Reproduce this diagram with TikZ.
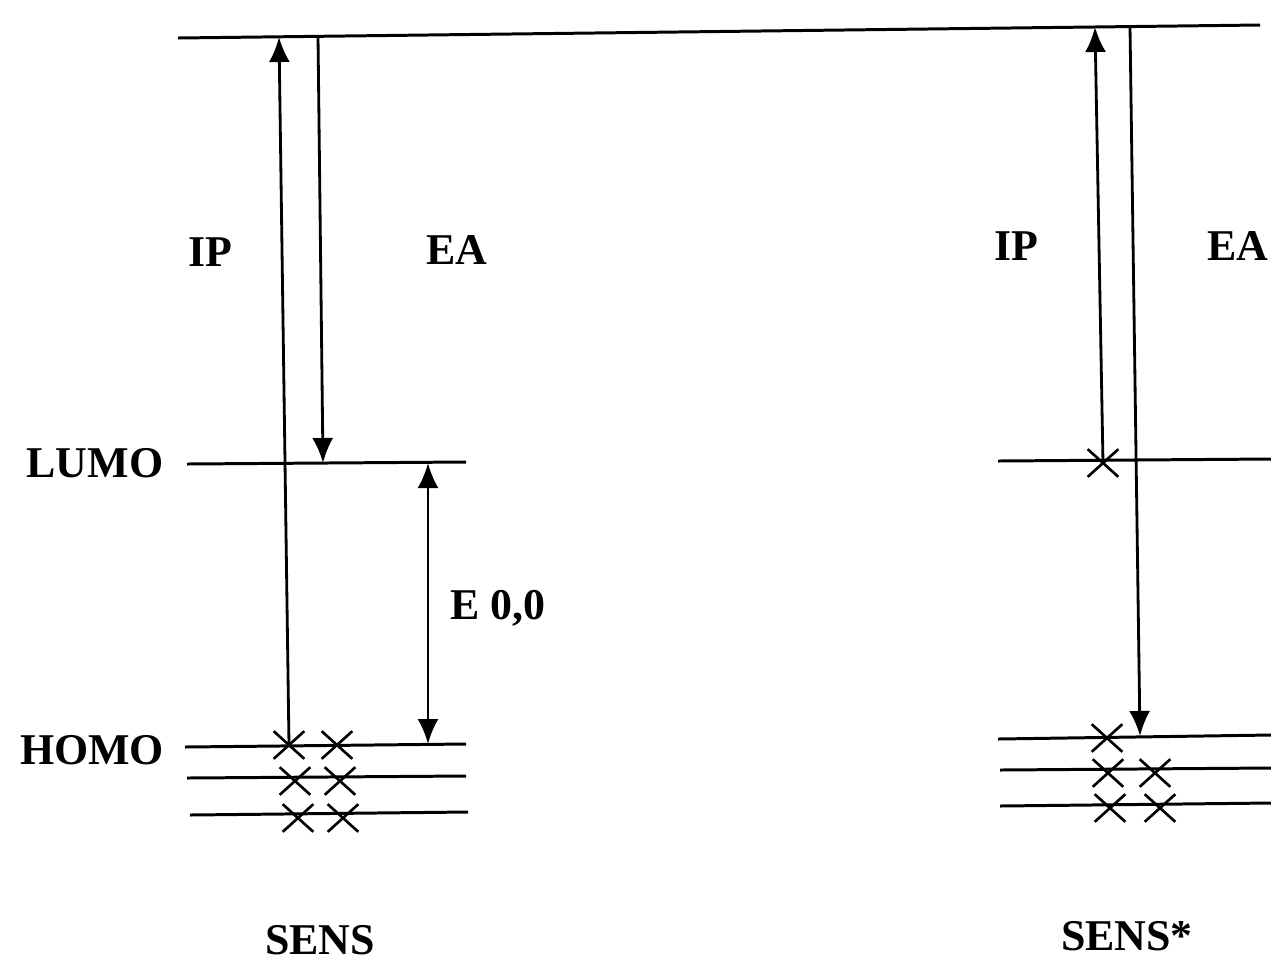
\documentclass[tikz,border=0pt]{standalone}
\usepackage{fontspec}
\setmainfont{Liberation Serif}
\usepackage{tikz}
\usetikzlibrary{arrows.meta,shapes.misc}

\begin{document}
\begin{tikzpicture}[x=0.02cm,y=-0.02cm,line width=1.6pt,
  every node/.style={font=\fontsize{25}{30}\selectfont\bfseries},
  level/.style={line width=1.7pt},
  trans/.style={line width=1.6pt,-{Latex[length=0.5cm,width=0.42cm]}},
  elec/.style={cross out,draw,line width=1.5pt,minimum width=0.56cm,minimum height=0.5cm,inner sep=0pt,font=\normalsize}]
\useasboundingbox (0,0) rectangle (1271,965);

% vacuum level
\coordinate (vacL) at (178,38);
\coordinate (vacR) at (1260,25);
\draw[level] (vacL) -- (vacR);

% SENS levels
\coordinate (lumoLa) at (187,464); \coordinate (lumoLb) at (466,462);
\coordinate (homoLa) at (185,747); \coordinate (homoLb) at (466,744);
\coordinate (homoLc) at (187,778); \coordinate (homoLd) at (466,776);
\coordinate (homoLe) at (190,815); \coordinate (homoLf) at (468,812);
\draw[level] (lumoLa) -- (lumoLb);
\draw[level] (homoLa) -- (homoLb);
\draw[level] (homoLc) -- (homoLd);
\draw[level] (homoLe) -- (homoLf);

% SENS* levels
\coordinate (lumoRa) at (998,461); \coordinate (lumoRb) at (1271,459);
\coordinate (homoRa) at (998,739); \coordinate (homoRb) at (1271,735);
\coordinate (homoRc) at (1000,770); \coordinate (homoRd) at (1271,768);
\coordinate (homoRe) at (1000,806); \coordinate (homoRf) at (1271,803);
\draw[level] (lumoRa) -- (lumoRb);
\draw[level] (homoRa) -- (homoRb);
\draw[level] (homoRc) -- (homoRd);
\draw[level] (homoRe) -- (homoRf);

% electrons
\node[elec] (xL1) at (289,745) {};
\node[elec] (xL2) at (337,745) {};
\node[elec] (xL3) at (295,781) {};
\node[elec] (xL4) at (340,781) {};
\node[elec] (xL5) at (298,818) {};
\node[elec] (xL6) at (343,818) {};
\node[elec] (xR0) at (1103,463) {};
\node[elec] (xR1) at (1107,738) {};
\node[elec] (xR3) at (1108,773) {};
\node[elec] (xR4) at (1155,773) {};
\node[elec] (xR5) at (1110,808) {};
\node[elec] (xR6) at (1160,808) {};

% transitions
\coordinate (ipLtop) at (279,37);
\coordinate (eaLtop) at (318,36);
\coordinate (eaLbot) at (323,463);
\coordinate (e00top) at (428,463);
\coordinate (e00bot) at (428,744);
\coordinate (ipRtop) at (1095,27);
\coordinate (eaRtop) at (1130,27);
\coordinate (eaRbot) at (1140,736);
\draw[trans] (xL1.center) -- (ipLtop);
\draw[trans] (eaLtop) -- (eaLbot);
\draw[trans,{Latex[length=0.5cm,width=0.42cm]}-{Latex[length=0.5cm,width=0.42cm]}] (e00bot) -- (e00top);
\draw[trans] (xR0.center) -- (ipRtop);
\draw[trans] (eaRtop) -- (eaRbot);

% labels
\node (lumo) at (95,463) {LUMO};
\node (homo) at (92,750) {HOMO};
\node (ipL) at (210,252) {IP};
\node (eaL) at (457,250) {EA};
\node (e00) at (498,608) {E 0,0};
\node (ipR) at (1016,246) {IP};
\node (eaR) at (1238,246) {EA};
\node (sens) at (320,940) {SENS};
\node (sensx) at (1127,936) {SENS*};

\end{tikzpicture}
\end{document}
